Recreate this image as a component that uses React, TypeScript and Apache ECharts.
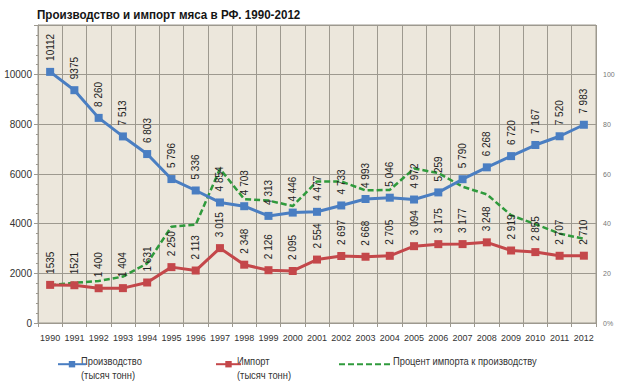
import React, { useEffect, useRef } from 'react';
import * as echarts from 'echarts';

const years = ['1990', '1991', '1992', '1993', '1994', '1995', '1996', '1997', '1998', '1999', '2000', '2001', '2002', '2003', '2004', '2005', '2006', '2007', '2008', '2009', '2010', '2011', '2012'];
const production = [10112, 9375, 8260, 7513, 6803, 5796, 5336, 4854, 4703, 4313, 4446, 4477, 4733, 4993, 5046, 4972, 5259, 5790, 6268, 6720, 7167, 7520, 7983];
const productionLabels = ['10112', '9375', '8 260', '7 513', '6 803', '5 796', '5 336', '4 854', '4 703', '4 313', '4 446', '4 477', '4 733', '4 993', '5 046', '4 972', '5 259', '5 790', '6 268', '6 720', '7 167', '7 520', '7 983'];
const imports = [1535, 1521, 1400, 1404, 1631, 2250, 2113, 3015, 2348, 2126, 2095, 2554, 2697, 2668, 2705, 3094, 3175, 3177, 3248, 2919, 2855, 2707, 2710];
const importLabels = ['1535', '1521', '1 400', '1 404', '1 631', '2 250', '2 113', '3 015', '2 348', '2 126', '2 095', '2 554', '2 697', '2 668', '2 705', '3 094', '3 175', '3 177', '3 248', '2 919', '2 855', '2 707', '2 710'];
const importShare = [15.2, 16.2, 16.9, 18.7, 24.0, 38.8, 39.6, 62.1, 49.9, 49.3, 47.1, 57.0, 57.0, 53.4, 53.6, 62.2, 60.4, 54.9, 51.8, 43.4, 39.8, 36.0, 33.9];
const leftTicks = { min: 0, max: 12000, interval: 2000 };
const rightTicks = { min: 0, max: 120, interval: 20 };

const TITLE = 'Производство и импорт мяса в РФ. 1990-2012';
const NAME_PROD = 'Производство';
const NAME_IMP = 'Импорт';
const NAME_SHARE = 'Процент импорта к производству';
const UNIT = '(тысяч тонн)';

const BLUE = '#4a7ec2';
const RED = '#c4474a';
const GREEN = '#2f9a3c';
const GRIDC = '#9d998f';
const SANS = '"Liberation Sans", Arial, sans-serif';

export default function App() {
  const ref = useRef<HTMLDivElement>(null);
  useEffect(() => {
    if (!ref.current) return;
    const chart = echarts.init(ref.current, null, { renderer: 'svg' });
    const labelStyle = (labels: string[]) => ({
      show: true,
      position: 'top',
      rotate: 90,
      align: 'left',
      verticalAlign: 'middle',
      distance: 7,
      fontSize: 10,
      fontFamily: SANS,
      color: '#222',
      formatter: (p: any) => labels[p.dataIndex],
    });
    const narrowText = (text: string, x: number, y: number, size = 11, scale = 0.85, weight = 'normal', color = '#333') => ({
      type: 'text',
      x,
      y,
      scaleX: scale,
      silent: true,
      style: { text, fontSize: size, fontFamily: SANS, fontWeight: weight, fill: color, verticalAlign: 'middle', align: 'left' },
    });
    const iconLegend = (name: string, left: number, width: number, hideSymbol = false) => ({
      data: [name],
      left,
      top: 356,
      itemWidth: width,
      itemHeight: 8,
      formatter: () => '',
      textStyle: { fontSize: 8, lineHeight: 8, padding: 0 },
      ...(hideSymbol ? { itemStyle: { opacity: 0 } } : {}),
    });
    chart.setOption({
      animation: false,
      backgroundColor: '#fff',
      grid: {
        left: 38,
        right: 24,
        top: 25,
        bottom: 67,
        show: true,
        backgroundColor: '#ece7dc',
        borderColor: GRIDC,
        borderWidth: 1,
      },
      legend: [
        iconLegend(NAME_PROD, 52, 28),
        iconLegend(NAME_IMP, 210, 25),
        iconLegend(NAME_SHARE, 333, 54, true),
      ],
      graphic: [
        narrowText(TITLE, 37, 15, 13.5, 0.86, 'bold', '#151515'),
        narrowText(NAME_PROD, 81, 361.5),
        narrowText(UNIT, 81, 375.5),
        narrowText(NAME_IMP, 237, 361.5),
        narrowText(UNIT, 237, 375.5),
        narrowText(NAME_SHARE, 393, 361.5),
      ],
      xAxis: {
        type: 'category',
        data: years,
        boundaryGap: true,
        axisLine: { lineStyle: { color: GRIDC } },
        axisTick: { show: true, length: 4, lineStyle: { color: GRIDC } },
        axisLabel: { interval: 0, fontSize: 9, fontFamily: SANS, color: '#333', margin: 10 },
        splitLine: { show: true, interval: 0, lineStyle: { color: GRIDC, width: 1 } },
      },
      yAxis: [
        {
          type: 'value',
          ...leftTicks,
          axisLine: { show: true, lineStyle: { color: GRIDC } },
          axisTick: { show: true, length: 4, lineStyle: { color: GRIDC } },
          minorTick: { show: true, splitNumber: 5, length: 2, lineStyle: { color: GRIDC } },
          axisLabel: {
            fontSize: 10,
            fontFamily: SANS,
            color: '#333',
            margin: 6,
            formatter: (v: number) => (v === leftTicks.max ? '' : String(v)),
          },
          splitLine: { show: true, lineStyle: { color: GRIDC, width: 1 } },
        },
        {
          type: 'value',
          position: 'right',
          ...rightTicks,
          axisLine: { show: false },
          axisTick: { show: false },
          splitLine: { show: false },
          axisLabel: {
            fontSize: 7,
            fontFamily: SANS,
            color: '#777',
            margin: 7,
            formatter: (v: number) => (v === 0 ? '0%' : v === rightTicks.max ? '' : String(v)),
          },
        },
      ],
      series: [
        {
          name: NAME_PROD,
          type: 'line',
          data: production,
          yAxisIndex: 0,
          symbol: 'rect',
          symbolSize: 8,
          lineStyle: { color: BLUE, width: 3 },
          itemStyle: { color: BLUE },
          label: labelStyle(productionLabels),
          z: 3,
        },
        {
          name: NAME_IMP,
          type: 'line',
          data: imports,
          yAxisIndex: 0,
          symbol: 'rect',
          symbolSize: 8,
          lineStyle: { color: RED, width: 3 },
          itemStyle: { color: RED },
          label: labelStyle(importLabels),
          z: 3,
        },
        {
          name: NAME_SHARE,
          type: 'line',
          data: importShare,
          yAxisIndex: 1,
          symbol: 'none',
          lineStyle: { color: GREEN, width: 2.5, type: [6, 3] },
          itemStyle: { color: GREEN },
          z: 2,
        },
      ],
    });
    return () => chart.dispose();
  }, []);
  return <div ref={ref} style={{ position: 'fixed', left: 0, top: 0, width: 620, height: 390 }} />;
}
